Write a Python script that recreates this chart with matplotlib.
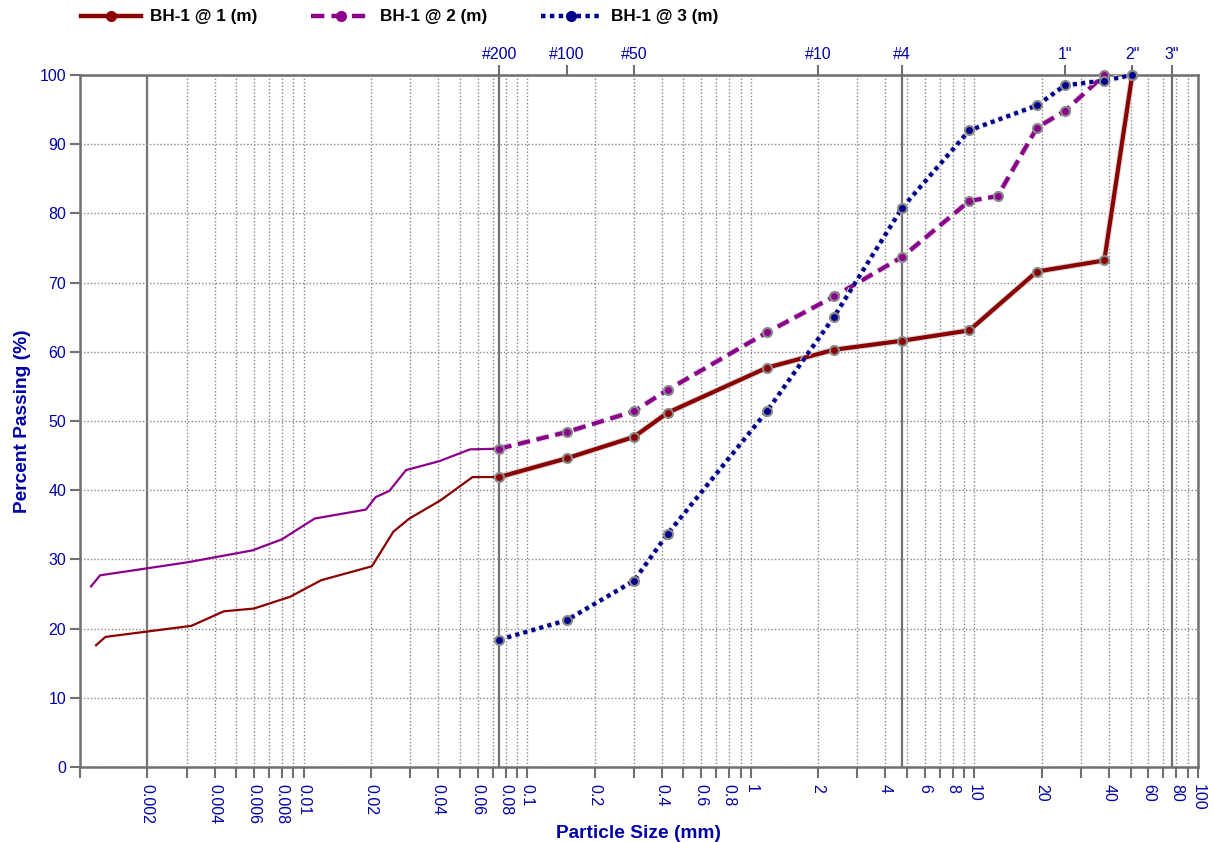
import matplotlib
matplotlib.use("Agg")
import matplotlib.pyplot as plt
import matplotlib.patheffects as pe
from matplotlib.lines import Line2D

plt.rcParams['font.family'] = ['Liberation Sans', 'DejaVu Sans']

# sieve data (mm, % passing)
sieve_1 = [0.075, 0.15, 0.3, 0.425, 1.18, 2.36, 4.75, 9.5, 19.05, 38.1, 50.8]
pass_1 = [41.9, 44.6, 47.7, 51.2, 57.7, 60.3, 61.6, 63.1, 71.6, 73.2, 100]

sieve_2 = [0.075, 0.15, 0.3, 0.425, 1.18, 2.36, 4.75, 9.5, 12.7, 19.05, 25.4, 38.1]
pass_2 = [46.0, 48.4, 51.4, 54.5, 62.8, 68.0, 73.7, 81.8, 82.5, 92.4, 94.8, 100]

sieve_3 = [0.075, 0.15, 0.3, 0.425, 1.18, 2.36, 4.75, 9.5, 19.05, 25.4, 38.1, 50.8]
pass_3 = [18.4, 21.2, 26.9, 33.7, 51.4, 65.1, 80.8, 92.0, 95.6, 98.5, 99.2, 100]

# hydrometer data
hyd_1 = [0.00118, 0.0013, 0.00315, 0.0044, 0.006, 0.0087, 0.012, 0.0202,
         0.0252, 0.0297, 0.0408, 0.057, 0.075]
hpass_1 = [17.6, 18.8, 20.4, 22.5, 22.9, 24.6, 27.0, 29.0, 34.0, 35.9, 38.5, 41.9, 41.9]

hyd_2 = [0.00112, 0.00123, 0.00305, 0.0059, 0.008, 0.0112, 0.019, 0.021,
         0.0242, 0.0287, 0.0405, 0.0555, 0.075]
hpass_2 = [26.1, 27.7, 29.6, 31.3, 32.9, 35.9, 37.2, 39.0, 39.9, 42.9, 44.2, 45.9, 46.0]

labels = ['BH-1 @ 1 (m)', 'BH-1 @ 2 (m)', 'BH-1 @ 3 (m)']
colors = ['#8b0000', '#8b008b', '#00008b']
styles = ['-', (0, (3, 1.6)), (0, (1, 1))]

top_ticks = [0.075, 0.15, 0.3, 2.0, 4.75, 25.4, 50.8, 76.2]
top_labels = ['#200', '#100', '#50', '#10', '#4', '1"', '2"', '3"']
dark_lines = [0.002, 0.075, 4.75, 76.2]

blue = '#0000a8'
grey = '#707070'

fig = plt.figure(figsize=(12.14, 8.42), dpi=100)
ax = fig.add_axes([80 / 1214, 1 - 767 / 842, 1118 / 1214, 692 / 842])
ax.set_xscale('log')
ax.set_xlim(0.001, 100)
ax.set_ylim(0, 100)

# ticks on every 1..9 multiple, labels only on some
bottom_ticks = []
bottom_labels = []
for k in range(-3, 2):
    for i in range(1, 10):
        v = i * 10.0 ** k
        bottom_ticks.append(v)
        if (i in (2, 4, 6, 8) or i == 1) and not (k == -3 and i == 1):
            bottom_labels.append(('%.3f' % v).rstrip('0').rstrip('.'))
        else:
            bottom_labels.append('')
bottom_ticks.append(100.0)
bottom_labels.append('100')

ax.set_xticks(bottom_ticks)
ax.set_xticklabels(bottom_labels, rotation=270, color=blue, fontsize=11.5)
ax.xaxis.set_minor_locator(matplotlib.ticker.NullLocator())
ax.tick_params(axis='x', direction='out', length=8, width=1.5, color=grey, pad=4)
ax.set_yticks(range(0, 101, 10))
ax.tick_params(axis='y', direction='out', length=7, width=1.5, color=grey,
               labelcolor=blue, labelsize=11.5, pad=3)

ax.grid(True, which='major', linestyle=(0, (1, 1.5)), color='#888888', linewidth=1)
for d in dark_lines:
    ax.axvline(d, color=grey, linewidth=1.6, zorder=1.5)

for s in ax.spines.values():
    s.set_color(grey)
    s.set_linewidth(1.8)

top = ax.secondary_xaxis('top')
top.set_xticks(top_ticks)
top.set_xticklabels(top_labels, color=blue, fontsize=11.5)
top.xaxis.set_minor_locator(matplotlib.ticker.NullLocator())
top.tick_params(direction='out', length=7, width=1.5, color=grey, pad=2)
top.spines['top'].set_color(grey)

halo = [pe.Stroke(linewidth=4.6, foreground='#dadada'), pe.Normal()]

ax.plot(hyd_1, hpass_1, color=colors[0], linewidth=1.6, zorder=3)
ax.plot(hyd_2, hpass_2, color=colors[1], linewidth=1.6, zorder=3)

series = [(sieve_1, pass_1), (sieve_2, pass_2), (sieve_3, pass_3)]
for (xs, ys), c, ls in zip(series, colors, styles):
    ax.plot(xs, ys, color=c, linestyle=ls, linewidth=3.0, path_effects=halo,
            zorder=4, clip_on=False)
    ax.plot(xs, ys, linestyle='none', marker='o', markersize=6.5,
            markerfacecolor=c, markeredgecolor='#8a8a8a', markeredgewidth=1.5,
            zorder=5, clip_on=False)

ax.set_xlabel('Particle Size (mm)', color=blue, fontsize=13.8, fontweight='bold',
              labelpad=1)
ax.set_ylabel('Percent Passing (%)', color=blue, fontsize=13.8, fontweight='bold',
              labelpad=6)

handles = [Line2D([0], [0], color=c, linestyle=ls, linewidth=3.2, marker='o',
                  markersize=7, markerfacecolor=c, markeredgecolor=c)
           for c, ls in zip(colors, styles)]
leg = fig.legend(handles, labels, loc='center left', ncol=3, frameon=False,
                 bbox_to_anchor=(74 / 1214, 1 - 17 / 842), handlelength=3.5,
                 handletextpad=0.55, columnspacing=3.15, borderaxespad=0,
                 prop={'weight': 'bold', 'size': 12.3})

fig.savefig('out.png', dpi=100)
